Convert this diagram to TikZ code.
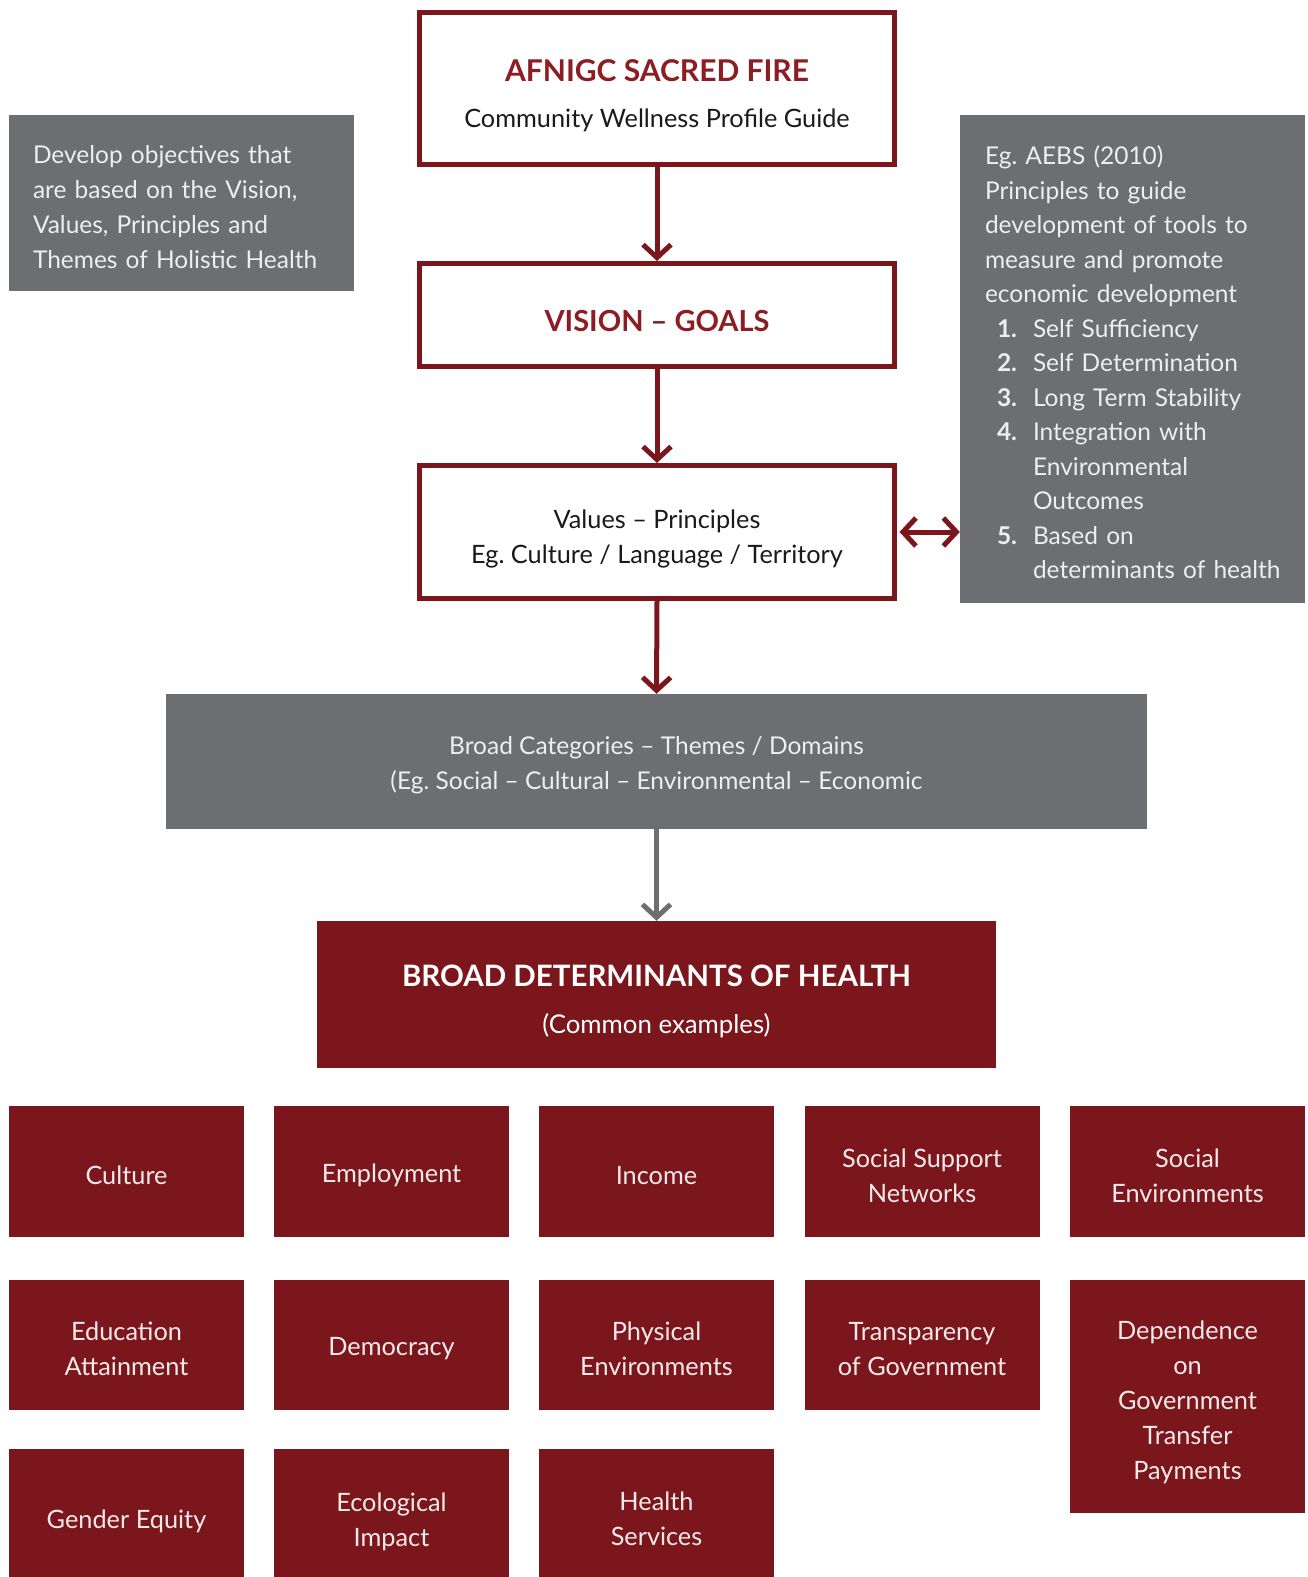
\documentclass[tikz,border=0pt]{standalone}
\usepackage{fontspec}
\setmainfont{Lato}
\usetikzlibrary{arrows.meta}
\definecolor{dred}{HTML}{7B171C}
\definecolor{tred}{HTML}{8C1D23}
\definecolor{gbox}{HTML}{6D6E71}
\definecolor{gtxt}{HTML}{EEEEEE}
\definecolor{ltxt}{HTML}{F3E9E9}
\definecolor{btxt}{HTML}{1A1A1A}
\frenchspacing
\begin{document}
\begin{tikzpicture}[x=1pt,y=-1pt,
 outline/.style={draw=dred, line width=5pt, fill=white, minimum width=475pt, inner sep=0pt},
 graybox/.style={fill=gbox, inner sep=0pt},
 redbox/.style={fill=dred, inner sep=0pt, minimum width=235pt, minimum height=131pt},
 boxtxt/.style={inner sep=0pt, align=center, text=btxt, font=\fontsize{25.3}{35}\selectfont},
 graytxt/.style={inner sep=0pt, text=gtxt, font=\fontsize{24.5}{35}\selectfont},
 redtxt/.style={inner sep=0pt, align=center, text=ltxt, font=\fontsize{25.3}{35}\selectfont, yshift=-4pt},
 rarrow/.style={draw=dred, line width=5pt, -{Straight Barb[length=13pt,width=28pt,line width=5pt]}},
 garrow/.style={draw=gbox, line width=5pt, -{Straight Barb[length=13pt,width=28pt,line width=5pt]}},
 darrow/.style={draw=dred, line width=5pt, {Straight Barb[length=13pt,width=28pt,line width=5pt]}-{Straight Barb[length=13pt,width=28pt,line width=5pt]}},
]
\useasboundingbox (0,0) rectangle (1308,1577);
\begin{scope}
\clip (0,0) rectangle (1308,1577);
% main chain
\node[outline, minimum height=152pt] (fire) at (657,88.5) {};
\node[boxtxt, font=\fontsize{25.3}{45.5}\selectfont, yshift=-7pt] (firet) at (fire)
  {{\fontsize{30}{36}\selectfont\bfseries\color{tred}AFNIGC SACRED FIRE}\\Community Wellness Profile Guide};
\node[outline, minimum height=103pt] (vision) at (657,315) {};
\node[boxtxt, font=\fontsize{29}{36}\selectfont\bfseries, text=tred, yshift=-6pt] (visiont) at (vision) {VISION – GOALS};
\node[outline, minimum height=133pt] (values) at (657,532) {};
\node[boxtxt, yshift=-7pt] (valuest) at (values)
  {Values – Principles\\Eg. Culture / Language / Territory};
\node[graybox, minimum width=981pt, minimum height=135pt] (cats) at (656.5,761.5) {};
\node[graytxt, align=center, yshift=-4pt] (catst) at (cats)
  {Broad Categories – Themes / Domains\\(Eg. Social – Cultural – Environmental – Economic};
\node[fill=dred, inner sep=0pt, minimum width=679pt, minimum height=147pt] (bdh) at (656.5,994.5) {};
\node[boxtxt, text=white, font=\fontsize{25.8}{47.5}\selectfont, yshift=-7pt] (bdht) at (bdh)
  {{\fontsize{29.5}{35}\selectfont\bfseries BROAD DETERMINANTS OF HEALTH}\\(Common examples)};
% side boxes
\node[graybox, minimum width=345pt, minimum height=176pt] (objectives) at (181.5,203) {};
\node[graytxt, text width=297pt, align=left, yshift=-4pt] (objectivest) at (objectives)
  {Develop objectives that\\are based on the Vision,\\Values, Principles and\\Themes of Holistic Health};
\node[graybox, minimum width=345pt, minimum height=488pt] (aebs) at (1132.5,359) {};
\node[graytxt, text width=295pt, align=left, font=\fontsize{24.5}{34.5}\selectfont, yshift=-3.5pt] (aebst) at (aebs)
  {\mbox{Eg. AEBS (2010)}\\
   \mbox{Principles to guide}\\
   \mbox{development of tools to}\\
   \mbox{measure and promote}\\
   \mbox{economic development}\\
   \mbox{\hspace*{12pt}\makebox[36pt][l]{\bfseries 1.}Self Sufficiency}\\
   \mbox{\hspace*{12pt}\makebox[36pt][l]{\bfseries 2.}Self Determination}\\
   \mbox{\hspace*{12pt}\makebox[36pt][l]{\bfseries 3.}Long Term Stability}\\
   \mbox{\hspace*{12pt}\makebox[36pt][l]{\bfseries 4.}Integration with}\\
   \mbox{\hspace*{48pt}Environmental}\\
   \mbox{\hspace*{48pt}Outcomes}\\
   \mbox{\hspace*{12pt}\makebox[36pt][l]{\bfseries 5.}Based on}\\
   \mbox{\hspace*{48pt}determinants of health}};
% connectors
\draw[rarrow] (fire.south) -- (vision.north);
\draw[rarrow] (vision.south) -- (values.north);
\draw[rarrow] (values.south) -- (cats.north);
\draw[garrow] (cats.south) -- (bdh.north);
\draw[darrow] ([xshift=2.5pt]values.east) -- (values.east -| aebs.west);
% grid of determinants
\node[redbox] (culture) at (126.5,1171.5) {};
\node[redtxt] (culturet) at (culture) {Culture};
\node[redbox] (employment) at (391.5,1171.5) {};
\node[redtxt] (employmentt) at (employment) {Employment};
\node[redbox] (income) at (656.5,1171.5) {};
\node[redtxt] (incomet) at (income) {Income};
\node[redbox] (support) at (922,1171.5) {};
\node[redtxt] (supportt) at (support) {Social Support\\Networks};
\node[redbox] (socenv) at (1187.5,1171.5) {};
\node[redtxt] (socenvt) at (socenv) {Social\\Environments};
\node[redbox, minimum height=130pt] (education) at (126.5,1345) {};
\node[redtxt] (educationt) at (education) {Education\\Attainment};
\node[redbox, minimum height=130pt] (democracy) at (391.5,1345) {};
\node[redtxt] (democracyt) at (democracy) {Democracy};
\node[redbox, minimum height=130pt] (physenv) at (656.5,1345) {};
\node[redtxt] (physenvt) at (physenv) {Physical\\Environments};
\node[redbox, minimum height=130pt] (transparency) at (922,1345) {};
\node[redtxt] (transparencyt) at (transparency) {Transparency\\of Government};
\node[redbox, minimum height=233pt] (dependence) at (1187.5,1396.5) {};
\node[redtxt, yshift=-2pt] (dependencet) at (dependence) {Dependence\\on\\Government\\Transfer\\Payments};
\node[redbox, minimum height=137pt] (gender) at (126.5,1517.5) {};
\node[redtxt] (gendert) at (gender) {Gender Equity};
\node[redbox, minimum height=137pt] (ecological) at (391.5,1517.5) {};
\node[redtxt] (ecologicalt) at (ecological) {Ecological\\Impact};
\node[redbox, minimum height=137pt] (health) at (656.5,1517.5) {};
\node[redtxt, yshift=3pt] (healtht) at (health) {Health\\Services};
\end{scope}
\end{tikzpicture}
\end{document}
